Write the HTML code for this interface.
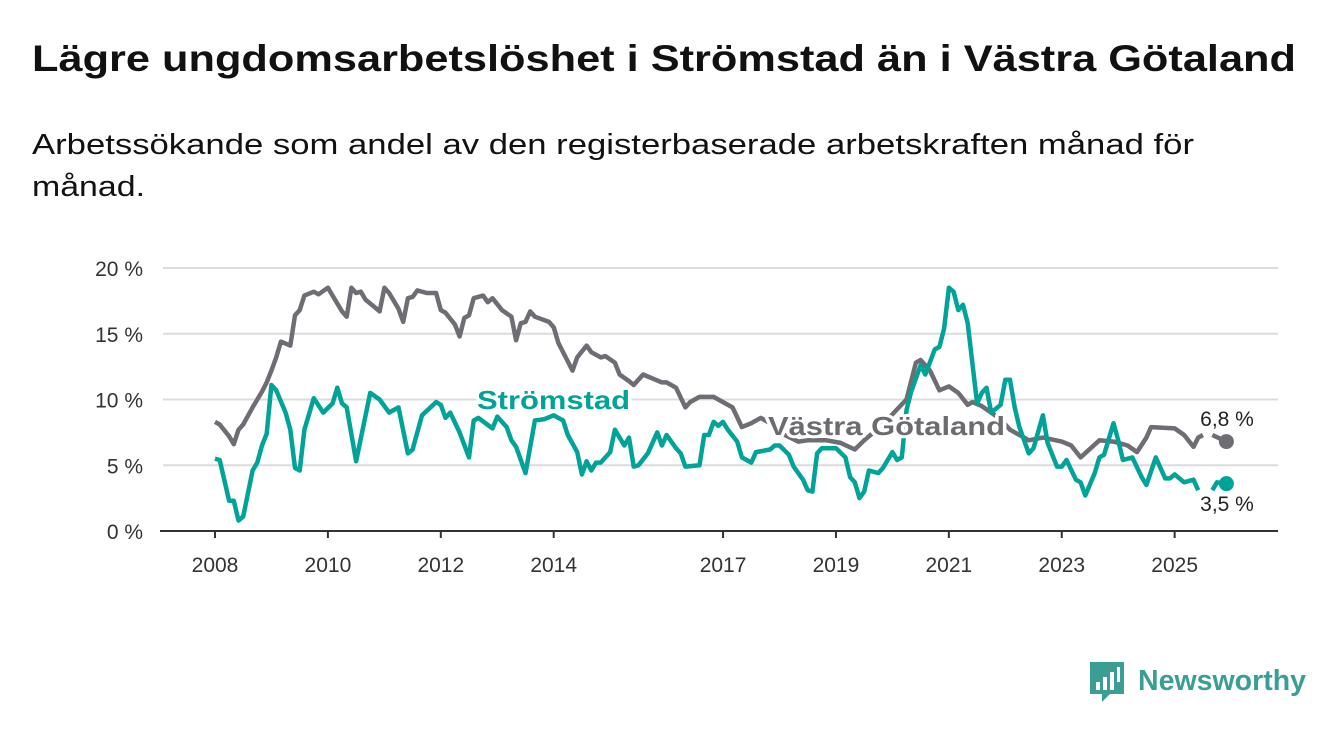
<!DOCTYPE html>
<html><head><meta charset="utf-8"><style>
body{margin:0;background:#fff;}
svg{display:block;font-family:"Liberation Sans","DejaVu Sans",sans-serif;}
</style></head><body>
<svg width="1340" height="734" viewBox="0 0 1340 734">
<text x="32" y="71" font-size="37" font-weight="bold" fill="#111" textLength="1264" lengthAdjust="spacingAndGlyphs">Lägre ungdomsarbetslöshet i Strömstad än i Västra Götaland</text>
<text x="32" y="154" font-size="29" fill="#111" textLength="1162" lengthAdjust="spacingAndGlyphs">Arbetssökande som andel av den registerbaserade arbetskraften månad för</text>
<text x="32" y="196" font-size="29" fill="#111" textLength="113" lengthAdjust="spacingAndGlyphs">månad.</text>
<g id="grid"></g>
<g id="xaxis"></g>
<g id="series"></g>
<g id="labels"></g>
<g>
<path d="M1090 662 h34 v32 h-14 l-8 8 v-8 h-12 z" fill="#3a9e95"/>
<rect x="1096" y="682" width="4" height="8" fill="#fff"/>
<rect x="1103" y="677" width="4" height="13" fill="#fff"/>
<rect x="1110" y="672" width="4" height="18" fill="#fff"/>
<rect x="1117" y="667" width="3" height="15" fill="#fff"/>
<text x="1138" y="690" font-size="29" font-weight="bold" fill="#3a9e95" textLength="168" lengthAdjust="spacingAndGlyphs">Newsworthy</text>
</g>
</svg>
<script>
// months since Jan 2008
const grayMonths=[0,1,3,4,5,6,8,10,11,12,13,14,16,17,18,19,21,22,24,25,27,28,29,30,31,32,34,35,36,37,39,40,41,42,43,45,47,48,49,51,52,53,54,55,57,58,59,61,63,64,65,66,67,68,71,72,73,76,77,79,80,82,83,85,86,88,89,91,93,95,96,98,100,101,103,106,108,110,112,114,116,118,120,124,126,130,133,136,138,140,143,147,149,150,152,154,156,158,160,161,163,165,167,169,173,176,180,182,184,188,191,194,196,198,199,204,206,208,209,210,211,212,215];
const grayValues=[8.3,8.1,7.2,6.6,7.7,8.1,9.4,10.6,11.3,12.2,13.2,14.4,14.1,16.4,16.8,17.9,18.2,18.0,18.5,17.9,16.7,16.3,18.5,18.1,18.2,17.6,17.0,16.7,18.5,18.1,16.9,15.9,17.7,17.8,18.3,18.1,18.1,16.8,16.6,15.7,14.8,16.2,16.4,17.7,17.9,17.4,17.7,16.8,16.3,14.5,15.8,15.9,16.7,16.3,15.9,15.5,14.3,12.2,13.2,14.1,13.6,13.2,13.3,12.8,11.9,11.4,11.1,11.9,11.6,11.3,11.3,10.9,9.4,9.8,10.2,10.2,9.8,9.4,7.9,8.2,8.6,8.2,7.5,6.8,6.9,6.9,6.7,6.2,6.9,7.5,8.5,10.0,12.8,13.0,12.2,10.7,11.0,10.5,9.6,9.8,9.5,9.0,8.5,7.7,6.9,7.1,6.8,6.5,5.6,6.9,6.8,6.5,6.0,7.1,7.9,7.8,7.3,6.4,7.1,7.3,null,7.3,6.8];
const tealMonths=[0,1,3,4,5,6,8,9,10,11,12,13,15,16,17,18,19,21,23,25,26,27,28,30,33,35,37,39,41,42,44,47,48,49,50,52,54,55,56,59,60,62,63,64,66,68,70,72,74,75,77,78,79,80,81,82,84,85,87,88,89,90,92,94,95,96,98,99,100,103,104,105,106,107,108,109,111,112,114,115,118,119,120,122,123,125,126,127,128,129,132,134,135,136,137,138,139,141,142,144,145,146,147,148,150,151,153,154,155,156,157,158,159,160,162,163,164,165,166,167,168,169,170,171,173,174,176,177,179,180,181,183,184,185,187,188,189,191,192,193,195,197,198,200,202,203,204,205,206,208,209,210,211,212,213,215];
const tealValues=[5.5,5.4,2.3,2.3,0.8,1.1,4.6,5.2,6.5,7.4,11.1,10.7,9.0,7.7,4.8,4.6,7.7,10.1,9.0,9.7,10.9,9.7,9.4,5.3,10.5,10.0,9.0,9.4,5.9,6.2,8.8,9.8,9.6,8.6,9.0,7.5,5.6,8.4,8.6,7.8,8.7,7.9,6.9,6.4,4.4,8.4,8.5,8.8,8.4,7.3,6.0,4.3,5.3,4.6,5.2,5.2,6.0,7.7,6.5,7.1,4.9,5.0,5.9,7.5,6.5,7.3,6.3,5.9,4.9,5.0,7.3,7.3,8.3,8.0,8.3,7.7,6.8,5.6,5.2,6.0,6.2,6.5,6.5,5.8,4.9,3.9,3.1,3.0,5.9,6.3,6.3,5.6,4.1,3.7,2.5,3.0,4.6,4.4,4.8,6.0,5.4,5.6,9.2,10.6,12.6,11.9,13.8,14.0,15.4,18.5,18.2,16.8,17.2,15.8,9.7,10.5,10.9,9.0,9.3,9.6,11.5,11.5,9.4,7.9,5.9,6.3,8.8,6.7,4.9,4.9,5.4,3.9,3.7,2.7,4.4,5.6,5.8,8.2,6.9,5.4,5.6,4.1,3.5,5.6,4.0,4.0,4.3,4.0,3.7,3.9,3.1,null,null,3.1,3.7,3.6];
const yTicks=[0,5,10,15,20];
const yTickLabels=["0 %","5 %","10 %","15 %","20 %"];
const xTicks=[2008,2010,2012,2014,2017,2019,2021,2023,2025];
const NS='http://www.w3.org/2000/svg';
const X0=215,PXY=56.45,Y0=531,PXV=13.15;
function xs(m){return X0+m/12*PXY;}
function xy(y){return X0+(y-2008)*PXY;}
function ys(v){return Y0-v*PXV;}
function mk(tag,attrs,parent){const e=document.createElementNS(NS,tag);for(const k in attrs)e.setAttribute(k,attrs[k]);parent.appendChild(e);return e;}
const grid=document.getElementById('grid');
yTicks.forEach((t,i)=>{
  if(t>0){const l=mk('line',{x1:163,x2:1278,y1:ys(t),y2:ys(t),stroke:'#dcdcdc','stroke-width':2},grid);
  
  }
  const tx=mk('text',{x:143,y:ys(t)+8,'text-anchor':'end','font-size':21,fill:'#333'},grid);
  tx.textContent=yTickLabels[i];
  
  
});
const xa=document.getElementById('xaxis');
const al=mk('line',{x1:160,x2:1278,y1:Y0,y2:Y0,stroke:'#333','stroke-width':2},xa);


xTicks.forEach(y=>{
  mk('line',{x1:xy(y),x2:xy(y),y1:Y0,y2:Y0+7,stroke:'#333','stroke-width':2},xa);
  const t=mk('text',{x:xy(y),y:572,'text-anchor':'middle','font-size':21,fill:'#333'},xa);
  t.textContent=y;
  
  
});
function path(ms,vs){let d='',pen=false;ms.forEach((m,i)=>{const v=vs[i];if(v==null){pen=false;return;}d+=(pen?'L':'M')+xs(m).toFixed(1)+' '+ys(v).toFixed(1);pen=true;});return d;}
const sg=document.getElementById('series');
const gp=mk('path',{d:path(grayMonths,grayValues),fill:'none',stroke:'#6e6d73','stroke-width':4.5,'stroke-linejoin':'round'},sg);


const tp=mk('path',{d:path(tealMonths,tealValues),fill:'none',stroke:'#00a398','stroke-width':4.5,'stroke-linejoin':'round'},sg);


const gl=grayValues.length-1,tl=tealValues.length-1;
const gd=mk('circle',{cx:xs(grayMonths[gl]),cy:ys(grayValues[gl]),r:7.5,fill:'#6e6d73'},sg);


const td=mk('circle',{cx:xs(tealMonths[tl]),cy:ys(tealValues[tl]),r:7.5,fill:'#00a398'},sg);


const lg=document.getElementById('labels');
function lab(txt,x,y,size,w,col,name,anchor,len){
  const a={x:x,y:y,'font-size':size,'font-weight':w,fill:col,stroke:'#fff','stroke-width':6,'paint-order':'stroke','stroke-linejoin':'round','text-anchor':anchor||'start'};
  if(len){a.textLength=len;a.lengthAdjust='spacingAndGlyphs';}
  const t=mk('text',a,lg);
  t.textContent=txt;
  
  
}
lab('Strömstad',477,409,26,'bold','#00a398','stromstad-label','start',153);
lab('Västra Götaland',768,435,26,'bold','#6d6b70','vastra-gotaland-label','start',237);
lab(String(grayValues[gl]).replace('.',',')+' %',1227,426,21,'normal','#222','vastra-gotaland-value','middle');
lab(String(3.5).replace('.',',')+' %',1227,511,21,'normal','#222','stromstad-value','middle');
</script>
</body></html>
